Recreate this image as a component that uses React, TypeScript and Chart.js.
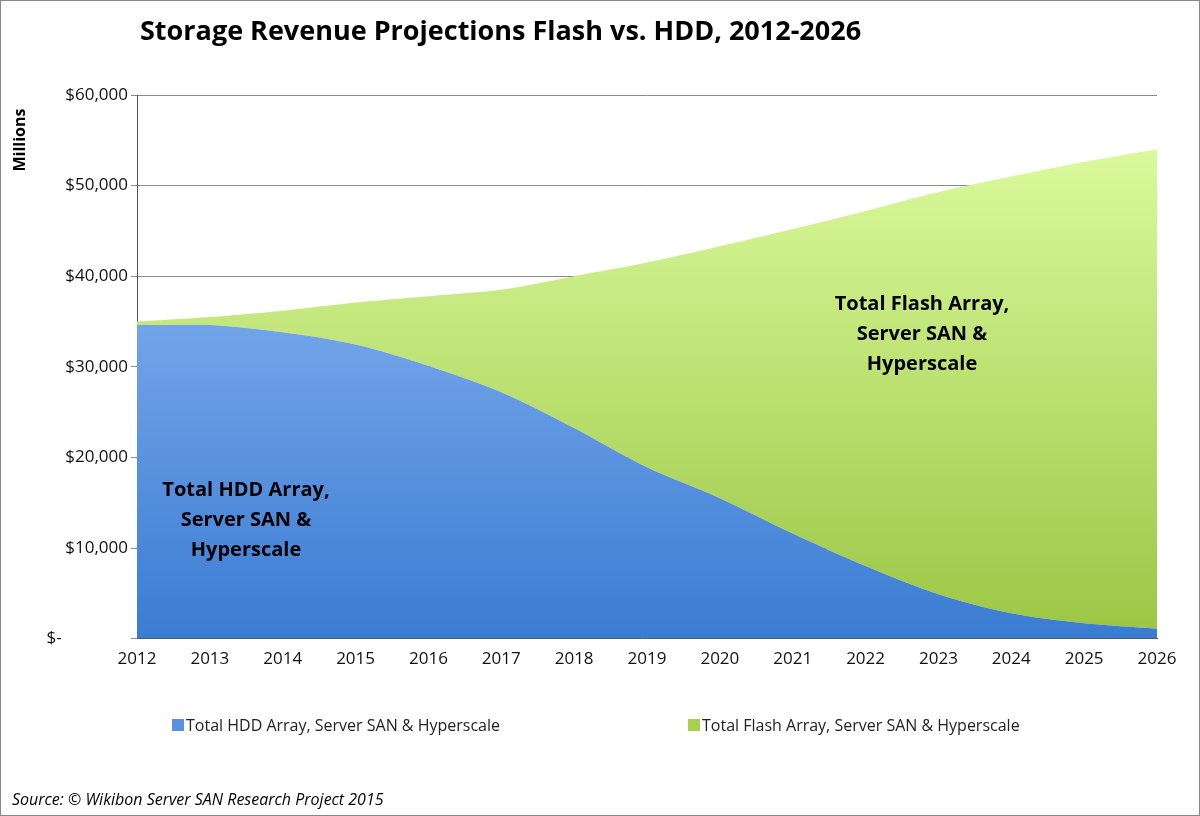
import { useEffect, useRef } from 'react'
import { Chart, registerables } from 'chart.js'

Chart.register(...registerables)

const years = ['2012', '2013', '2014', '2015', '2016', '2017', '2018', '2019', '2020', '2021', '2022', '2023', '2024', '2025', '2026']
const hdd = [34600, 34600, 33800, 32450, 30100, 27200, 23250, 18900, 15500, 11600, 8000, 4900, 2800, 1700, 1100]
const total = [35000, 35500, 36200, 37100, 37800, 38500, 40000, 41500, 43300, 45200, 47200, 49300, 51000, 52600, 54000]
const flash = total.map((t, i) => t - hdd[i])

const FONT = '"Open Sans", Lato, sans-serif'

const decor = {
  id: 'decor',
  afterDraw(chart: Chart) {
    const { ctx, width, height } = chart
    ctx.save()
    ctx.strokeStyle = '#888'
    ctx.lineWidth = 1
    ctx.strokeRect(0.5, 0.5, width - 1, height - 1)
    ctx.fillStyle = '#000'
    ctx.font = `bold 27px ${FONT}`
    ctx.textBaseline = 'middle'
    ctx.fillText('Storage Revenue Projections Flash vs. HDD, 2012-2026', 140, 32)
    ctx.font = `italic 16px ${FONT}`
    ctx.fillText('Source: © Wikibon Server SAN Research Project 2015', 12, 800)
    ctx.font = `bold 20px ${FONT}`
    ctx.textAlign = 'center'
    ;['Total HDD Array,', 'Server SAN &', 'Hyperscale'].forEach((s, i) => ctx.fillText(s, 246, 490 + i * 30))
    ;['Total Flash Array,', 'Server SAN &', 'Hyperscale'].forEach((s, i) => ctx.fillText(s, 922, 304 + i * 30))
    ctx.font = `bold 16px ${FONT}`
    ctx.translate(20, 140)
    ctx.rotate(-Math.PI / 2)
    ctx.fillText('Millions', 0, 0)
    ctx.restore()
    ctx.save()
    ctx.font = `16px ${FONT}`
    ctx.textBaseline = 'middle'
    ctx.fillStyle = '#5b8fe0'
    ctx.fillRect(172, 719, 12, 12)
    ctx.fillStyle = '#a6d04e'
    ctx.fillRect(688, 719, 12, 12)
    ctx.fillStyle = '#222'
    ctx.fillText('Total HDD Array, Server SAN & Hyperscale', 186, 726)
    ctx.fillText('Total Flash Array, Server SAN & Hyperscale', 702, 726)
    ctx.restore()
  },
}

function grad(chart: Chart, top: string, bottom: string) {
  const a = chart.chartArea
  if (!a) return top
  const g = chart.ctx.createLinearGradient(0, a.top, 0, a.bottom)
  g.addColorStop(0, top)
  g.addColorStop(1, bottom)
  return g
}

export default function App() {
  const ref = useRef<HTMLCanvasElement>(null)
  useEffect(() => {
    document.body.style.margin = '0'
    const chart = new Chart(ref.current!, {
      type: 'line',
      data: {
        labels: years,
        datasets: [
          {
            label: 'Total HDD Array, Server SAN & Hyperscale',
            data: hdd,
            fill: 'origin',
            borderWidth: 0,
            pointRadius: 0,
            tension: 0.3,
            backgroundColor: (c) => grad(c.chart, '#9cc1fa', '#3a7cd2'),
          },
          {
            label: 'Total Flash Array, Server SAN & Hyperscale',
            data: flash,
            fill: '-1',
            borderWidth: 0,
            pointRadius: 0,
            tension: 0.3,
            backgroundColor: (c) => grad(c.chart, '#e2ffa6', '#9ac644'),
          },
        ],
      },
      options: {
        responsive: false,
        animation: false,
        layout: { padding: { top: 95, left: 20, right: 43, bottom: 143 } },
        plugins: { legend: { display: false }, tooltip: { enabled: false } },
        scales: {
          x: {
            offset: false,
            grid: { display: false, drawTicks: true, tickLength: 6 },
            border: { color: '#555' },
            ticks: { color: '#111', font: { family: FONT, size: 17 }, maxRotation: 0, padding: 4 },
          },
          y: {
            stacked: true,
            min: 0,
            max: 60000,
            afterFit: (s) => { s.width = 117 },
            grid: { color: '#8a8a8a', tickLength: 6 },
            border: { color: '#555' },
            ticks: {
              stepSize: 10000,
              color: '#111',
              font: { family: FONT, size: 17 },
              callback: (v) => (Number(v) === 0 ? '$-               ' : '$' + Number(v).toLocaleString('en-US')),
            },
          },
        },
      },
      plugins: [decor],
    })
    return () => chart.destroy()
  }, [])
  return <canvas ref={ref} width={1200} height={816} style={{ display: 'block' }} />
}
